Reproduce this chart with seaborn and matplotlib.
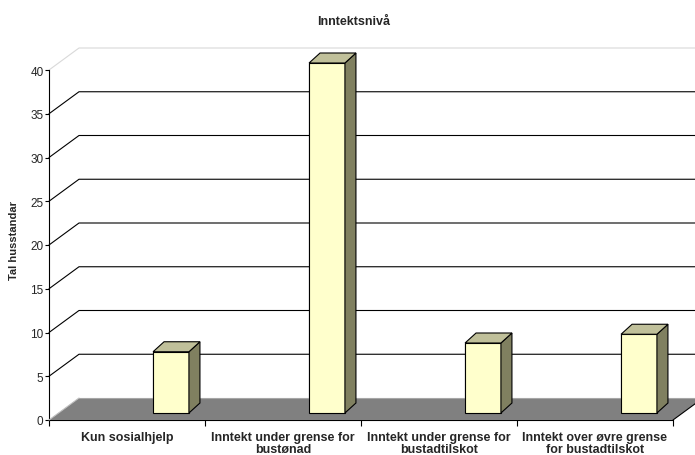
import matplotlib
matplotlib.use("Agg")
import matplotlib.pyplot as plt
from matplotlib.patches import Polygon
from matplotlib.transforms import ScaledTranslation
import seaborn as sns
import pandas as pd

categories = ["Kun sosialhjelp",
              "Inntekt under grense for\nbustønad",
              "Inntekt under grense for\nbustadtilskot",
              "Inntekt over øvre grense\nfor bustadtilskot"]
households = [7, 40, 8, 9]
y_ticks = [0, 5, 10, 15, 20, 25, 30, 35, 40]
title = "Inntektsnivå"
y_label = "Tal husstandar"

sns.set_style("white")
plt.rcParams["font.family"] = ["Liberation Sans", "DejaVu Sans"]

DPI = 100
W, H = 695, 456
fig = plt.figure(figsize=(W / DPI, H / DPI), dpi=DPI)
ax = fig.add_axes([49 / W, (H - 421) / H, (673 - 49) / W, (421 - 71) / H])

df = pd.DataFrame({"kategori": categories, "husstandar": households})
sns.barplot(data=df, x="kategori", y="husstandar", ax=ax, width=0.23,
            color="#FFFFCC", saturation=1, edgecolor="black", linewidth=0.8,
            zorder=5)
ax.set_xlim(-0.5, 3.5)
ax.set_ylim(0, 40)

# depth offsets (inches) for the 3D look
wall_dx, wall_dy = 0.30, 0.22
bar_shift = ScaledTranslation(0.44, 0.07, fig.dpi_scale_trans)
wall = ax.transData + ScaledTranslation(wall_dx, wall_dy, fig.dpi_scale_trans)

# floor
p0 = ax.transData.transform([(-0.5, 0), (3.5, 0)])
pw = wall.transform([(3.5, 0), (-0.5, 0)])
floor = Polygon(list(p0) + list(pw), closed=True, transform=None,
                facecolor="#808080", edgecolor="none", zorder=1, clip_on=False)
fig.add_artist(floor)
fig.add_artist(plt.Line2D([p0[1][0], pw[0][0]], [p0[1][1], pw[0][1]],
                          transform=None, color="black", lw=0.8, zorder=2))
fig.add_artist(plt.Line2D([pw[1][0], pw[0][0]], [pw[1][1], pw[0][1]],
                          transform=None, color="#A6A6A6", lw=0.8, zorder=2))
fig.add_artist(plt.Line2D([p0[0][0], pw[1][0]], [p0[0][1], pw[1][1]],
                          transform=None, color="#C0C0C0", lw=0.8, zorder=2))

# side-wall diagonals and back-wall gridlines
for v in y_ticks[1:]:
    col = "#D9D9D9" if v == y_ticks[-1] else "black"
    a = ax.transData.transform((-0.5, v))
    b = wall.transform((-0.5, v))
    c = wall.transform((3.5, v))
    fig.add_artist(plt.Line2D([a[0], b[0], c[0]], [a[1], b[1], c[1]],
                              transform=None, color=col, lw=0.8, zorder=0))

# bars: shift into the floor, add top and side faces
depth = (11, 10)
for bar in ax.patches:
    bar.set_transform(ax.transData + bar_shift)
    x0, w, h = bar.get_x(), bar.get_width(), bar.get_height()
    t = ax.transData + bar_shift
    tl, tr, br = t.transform([(x0, h), (x0 + w, h), (x0 + w, 0)])
    dx, dy = depth
    top = Polygon([tl, tr, (tr[0] + dx, tr[1] + dy), (tl[0] + dx, tl[1] + dy)],
                  transform=None, facecolor="#C0C09A", edgecolor="black",
                  lw=0.8, zorder=6)
    side = Polygon([tr, br, (br[0] + dx, br[1] + dy), (tr[0] + dx, tr[1] + dy)],
                   transform=None, facecolor="#808060", edgecolor="black",
                   lw=0.8, zorder=6)
    fig.add_artist(side)
    fig.add_artist(top)
    bar.set_clip_on(False)
    fig.add_artist(bar)

# axes styling
for s in ["top", "right"]:
    ax.spines[s].set_visible(False)
for s in ["left", "bottom"]:
    ax.spines[s].set_color("black")
    ax.spines[s].set_linewidth(0.8)
    ax.spines[s].set_zorder(3)
ax.set_yticks(y_ticks)
ax.tick_params(axis="y", length=3, width=0.8, color="black", direction="out",
               labelsize=8.5, pad=1, left=True)
ax.set_xticks(range(len(categories)))
ax.set_xticklabels(categories, fontsize=9, fontweight="bold", linespacing=0.95)
ax.set_xticks([-0.5, 0.5, 1.5, 2.5, 3.5], minor=True)
ax.tick_params(axis="x", which="major", length=0, pad=8)
ax.tick_params(axis="x", which="minor", length=4, width=0.8, color="black",
               direction="out", bottom=True)
ax.set_xlabel("")
ax.set_ylabel("")
ax.patch.set_alpha(0)

fig.text(14 / W, 1 - 241 / H, y_label, ha="center", va="center",
         rotation=90, fontsize=8, fontweight="bold")
fig.text(354 / W, 1 - 22 / H, title, ha="center", va="center",
         fontsize=9, fontweight="bold")

fig.savefig("out.png", dpi=DPI)
